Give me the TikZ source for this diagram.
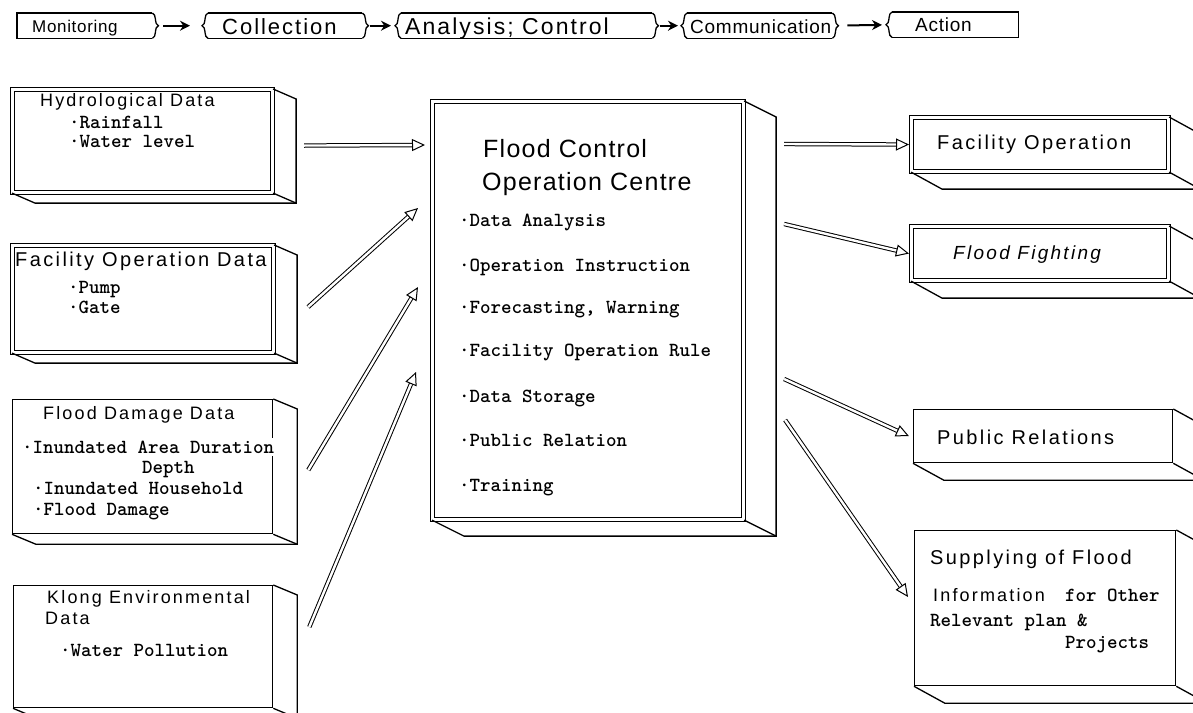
\documentclass[tikz,border=0pt]{standalone}
\usepackage{fontspec}
\setmainfont{Liberation Sans}
\newfontfamily\headfont[LetterSpace=12]{Liberation Sans}
\newfontfamily\bigheadfont[LetterSpace=5]{Liberation Sans}
\newfontfamily\tabfont[LetterSpace=4]{Liberation Sans}
\newfontfamily\widetabfont[LetterSpace=9]{Liberation Sans}
\usetikzlibrary{calc}
\usetikzlibrary{arrows.meta}
\usetikzlibrary{decorations.pathreplacing}
\newcommand{\fsz}[1]{\fontsize{#1}{#1}\selectfont}
% side and bottom faces of a box, pushed back by (#2,#3)
\newcommand{\slab}[3]{%
    \draw[boxline] (#1.north east) -- ++(#2,#3) -- ($(#1.south east)+(#2,#3)$) -- ($(#1.south west)+(#2,#3)$) -- (#1.south west);
    \draw[boxline] (#1.south east) -- ++(#2,#3);
}
\tikzset{
    boxline/.style={line width=1.3pt},
    face/.style={draw, boxline, rectangle, anchor=north west, inner sep=0pt},
    dface/.style={face, double, double distance=2.6pt, line width=1.1pt},
    boxhead/.style={anchor=base west, inner sep=0pt, font=\headfont\fsz{18}},
    widehead/.style={boxhead, font=\headfont\fsz{20}},
    bighead/.style={anchor=base west, inner sep=0pt, font=\bigheadfont\fsz{25}},
    boxitem/.style={anchor=base west, inner sep=0pt, font=\ttfamily\bfseries\fsz{20}},
    tab/.style={rectangle, anchor=north west, inner sep=0pt, minimum height=25pt},
    tabtext/.style={anchor=base west, inner sep=0pt, font=\tabfont\fsz{19}},
    rwave/.style={boxline, decorate, decoration={brace, amplitude=6pt}},
    hdarrow/.style={line width=2pt, -{Stealth[length=10pt, width=10pt]}},
    flow/.style={double, double distance=2.4pt, line width=1pt, -{Triangle[open, length=13pt, width=12pt]}}
}
\begin{document}
\begin{tikzpicture}[x=1pt, y=-1pt]
    \path[fill=white, use as bounding box] (0,0) rectangle (1193,712);

    % steps along the top
    \node[tab, minimum width=135pt] (mon) at (17,13) {};
    \node[tab, minimum width=154pt] (col) at (208,13) {};
    \node[tab, minimum width=251pt] (ana) at (401,13) {};
    \node[tab, minimum width=145pt] (com) at (687,13) {};
    \node[tab, minimum width=126pt] (act) at (892,12) {};

    \draw[boxline] (mon.north east) -- (mon.north west) -- (mon.south west) -- (mon.south east);
    \draw[rwave] (mon.north east) -- (mon.south east);
    \foreach \t in {col, ana, com} {
        \draw[boxline] (\t.north west) -- (\t.north east) (\t.south west) -- (\t.south east);
        \draw[rwave] (\t.south west) -- (\t.north west);
        \draw[rwave] (\t.north east) -- (\t.south east);
    }
    \draw[boxline] (act.north west) -- (act.north east) -- (act.south east) -- (act.south west);
    \draw[rwave] (act.south west) -- (act.north west);

    \node[tabtext, font=\tabfont\fsz{17}] (mon-t) at (32,32) {Monitoring};
    \node[tabtext, font=\widetabfont\fsz{22}] (col-t) at (222,34) {Collection};
    \node[tabtext, font=\widetabfont\fsz{23}] (ana-t) at (405,34) {Analysis; Control};
    \node[tabtext] (com-t) at (690,33) {Communication};
    \node[tabtext] (act-t) at (915,31) {Action};

    \draw[hdarrow, shorten <=11pt, shorten >=18pt] (mon.east) -- (col.west);
    \draw[hdarrow, shorten <=8pt, shorten >=10pt] (col.east) -- (ana.west);
    \draw[hdarrow, shorten <=8pt, shorten >=9pt] (ana.east) -- (com.west);
    \draw[hdarrow, shorten <=15pt, shorten >=10pt] (com.east) -- (act.west);

    % data sources
    \node[dface, minimum width=260pt, minimum height=103pt] (hyd) at (12,89) {};
    \node[dface, minimum width=261pt, minimum height=107pt] (fod) at (12,245) {};
    \node[face, minimum width=260pt, minimum height=134pt] (fdd) at (12,399) {};
    \node[face, minimum width=259pt, minimum height=122pt] (kle) at (13,585) {};
    \slab{hyd}{23}{10}
    \slab{fod}{23}{10}
    \slab{fdd}{24}{10}
    \slab{kle}{24}{10}

    \node[boxhead] (hyd-t) at (40,106) {Hydrological Data};
    \node[boxitem] (hyd-1) at (69,128) {·Rainfall};
    \node[boxitem] (hyd-2) at (69,147) {·Water level};

    \node[widehead] (fod-t) at (15,266) {Facility Operation Data};
    \node[boxitem] (fod-1) at (68,293) {·Pump};
    \node[boxitem] (fod-2) at (68,313) {·Gate};

    \node[boxhead] (fdd-t) at (43,419) {Flood Damage Data};
    \node[boxitem, fill=white, inner ysep=3pt] (fdd-1) at (22,453) {·Inundated Area Duration};
    \node[boxitem] (fdd-2) at (142,473) {Depth};
    \node[boxitem] (fdd-3) at (33,494) {·Inundated Household};
    \node[boxitem] (fdd-4) at (33,515) {·Flood Damage};

    \node[boxhead] (kle-t) at (47,603) {Klong Environmental};
    \node[boxhead] (kle-t2) at (45,624) {Data};
    \node[boxitem] (kle-1) at (60,656) {·Water Pollution};

    % operation centre
    \node[dface, minimum width=311pt, minimum height=418pt] (cen) at (432,101) {};
    \slab{cen}{32}{16}
    \node[bighead] (cen-t1) at (483,157) {Flood Control};
    \node[bighead] (cen-t2) at (482,190) {Operation Centre};
    \foreach \txt [count=\i] / \y in {Data Analysis/226, Operation Instruction/271, {Forecasting, Warning}/313,
        Facility Operation Rule/356, Data Storage/402, Public Relation/446, Training/491}
        \node[boxitem] (cen-\i) at (459,\y) {·\txt};

    % actions
    \node[dface, minimum width=257pt, minimum height=54pt] (fop) at (911,117) {};
    \node[dface, minimum width=257pt, minimum height=54pt] (ffi) at (911,226) {};
    \node[face, minimum width=259pt, minimum height=53pt] (pre) at (913,409) {};
    \node[face, minimum width=261pt, minimum height=155pt] (sup) at (914,530) {};
    \slab{fop}{31}{17}
    \slab{ffi}{31}{17}
    \slab{pre}{31}{17}
    \slab{sup}{31}{17}

    \node[widehead] (fop-t) at (937,149) {Facility Operation};
    \node[boxhead, font=\headfont\itshape\fsz{19}] (ffi-t) at (953,259) {Flood Fighting};
    \node[widehead] (pre-t) at (937,444) {Public Relations};
    \node[widehead] (sup-t1) at (930,564) {Supplying of Flood};
    \node[boxhead] (sup-t2) at (933,601) {Information};
    \node[boxitem] (sup-t3) at (1065,601) {for Other};
    \node[boxitem] (sup-t4) at (930,626) {Relevant plan \&};
    \node[boxitem] (sup-t5) at (1065,648) {Projects};

    % flows in and out of the centre
    \draw[flow] ([shift={(31,4.5)}]hyd.east) -- ([shift={(-7,44)}]cen.north west);
    \draw[flow] ([shift={(34,62)}]fod.north east) -- ([shift={(-14,107)}]cen.north west);
    \draw[flow] ([shift={(35,71)}]fdd.north east) -- ([shift={(-14,186)}]cen.north west);
    \draw[flow] ([shift={(36,42)}]kle.north east) -- ([shift={(-16,271)}]cen.north west);

    \draw[flow] ([shift={(40,43)}]cen.north east) -- ([xshift=-2pt]fop.west);
    \draw[flow] ([shift={(40,123)}]cen.north east) -- ([xshift=-2pt]ffi.west);
    \draw[flow] ([shift={(40,278)}]cen.north east) -- ([xshift=-4pt]pre.west);
    \draw[flow] ([shift={(41,319)}]cen.north east) -- ([shift={(-6,67)}]sup.north west);
\end{tikzpicture}
\end{document}
